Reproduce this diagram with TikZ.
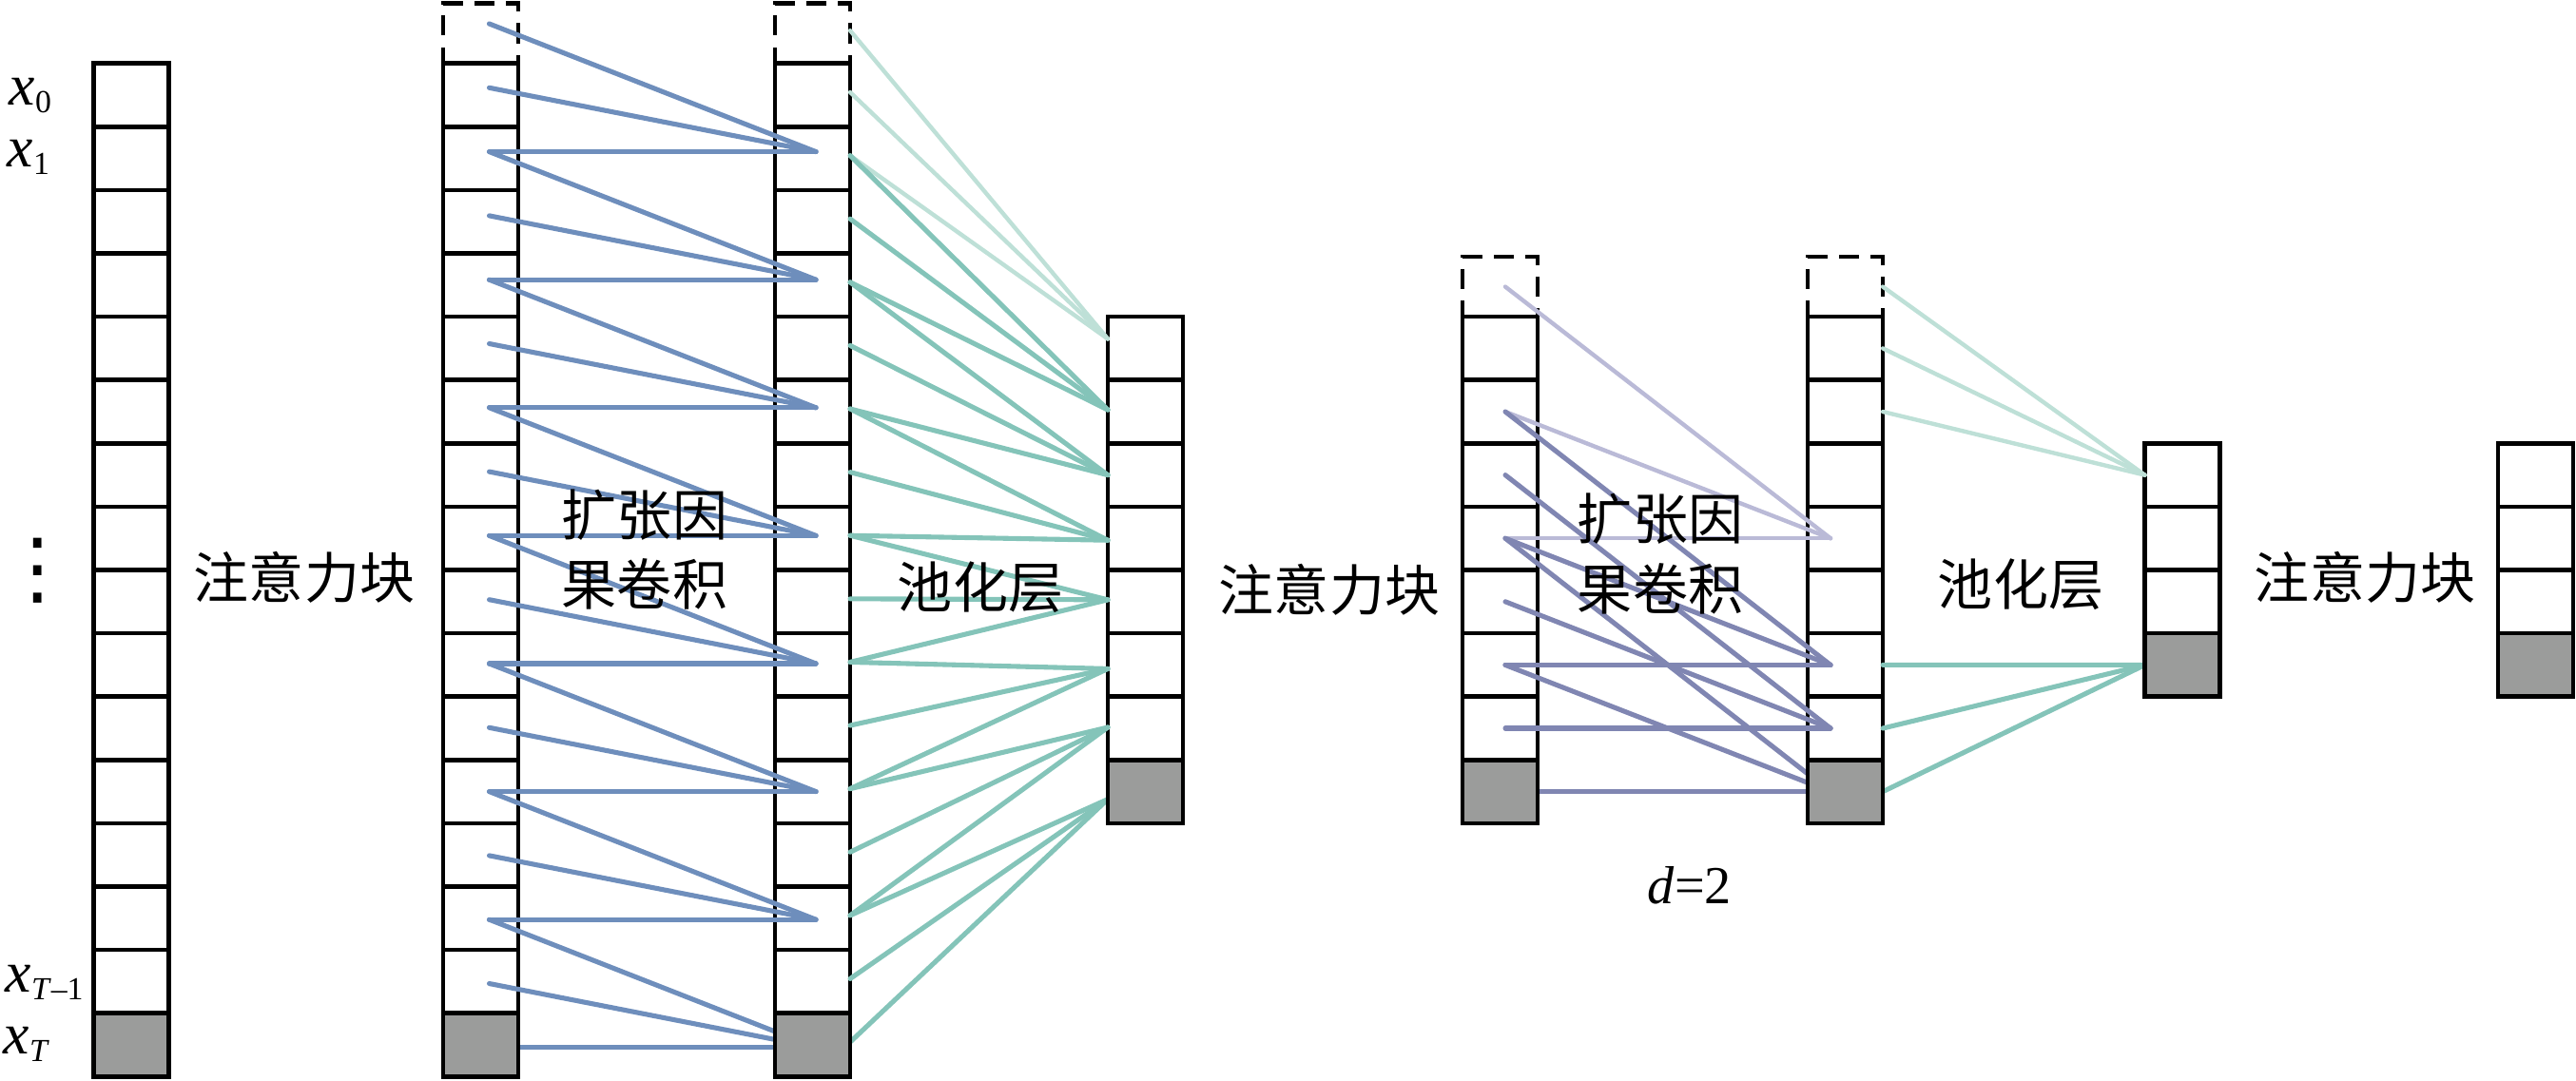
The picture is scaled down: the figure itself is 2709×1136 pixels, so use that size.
\documentclass[tikz,border=0pt]{standalone}
\usepackage{fontspec}
\setmainfont{Liberation Serif}
\newfontfamily\cjk{Noto Sans CJK SC}
\newfontfamily\dejavu{DejaVu Sans}
\usetikzlibrary{calc}
\pgfdeclarelayer{bg}
\pgfdeclarelayer{fg}
\pgfsetlayers{bg,main,fg}
\definecolor{convblue}{RGB}{110,142,188}
\definecolor{poolteal}{RGB}{132,196,185}
\definecolor{lightteal}{RGB}{190,224,215}
\definecolor{convpurple}{RGB}{128,134,178}
\definecolor{lightpurple}{RGB}{186,186,215}
\definecolor{cellgray}{RGB}{155,156,155}
\tikzset{
  cellbox/.style={draw=black, line width=1.3pt, minimum width=0.79cm, minimum height=0.666cm, inner sep=0pt, outer sep=0pt},
  graycell/.style={cellbox, fill=cellgray},
  padcell/.style={cellbox, minimum height=0.63cm, dash pattern=on 6pt off 3.5pt},
  link/.style={line width=1.45pt, line cap=round},
  bluelink/.style={link, draw=convblue},
  teallink/.style={link, draw=poolteal},
  lighttealink/.style={link, line width=1.25pt, draw=lightteal},
  purplelink/.style={link, draw=convpurple},
  lightpurplelink/.style={link, line width=1.25pt, draw=lightpurple},
  cjklabel/.style={font=\cjk\fontsize{16.5}{20.9}\selectfont, inner sep=0pt, align=center},
  xlabel/.style={font=\fontsize{17.5}{20}\selectfont, inner sep=0pt, anchor=base west},
}
\newcommand\lsub[1]{\raisebox{-2.4pt}{\fontsize{9.6}{10}\selectfont #1}}
\newcommand\mkcolumn[5]{%
  \begin{pgfonlayer}{bg}
    \ifnum#5=1
      \node[padcell, anchor=south west] (#1-0) at (#2,#3) {};
    \fi
    \pgfmathtruncatemacro\lastw{#4-1}
    \foreach \i in {1,...,\lastw}{
      \node[cellbox, anchor=north west] (#1-\i) at (#2,{#3+(\i-1)*66.6}) {};
    }
  \end{pgfonlayer}
  \begin{pgfonlayer}{fg}
    \node[graycell, anchor=north west] (#1-#4) at (#2,{#3+(#4-1)*66.6}) {};
  \end{pgfonlayer}
}
\begin{document}
\begin{tikzpicture}[x=0.01cm, y=-0.01cm]
\useasboundingbox (0,0) rectangle (2709,1136);
% columns
\mkcolumn{c1}{98.7}{66.7}{16}{0}
\mkcolumn{c2}{466}{66.7}{16}{1}
\mkcolumn{c3}{815}{66.7}{16}{1}
\mkcolumn{c4}{1165}{333.1}{8}{0}
\mkcolumn{c5}{1538}{333.1}{8}{1}
\mkcolumn{c6}{1901}{333.1}{8}{1}
\mkcolumn{c7}{2255.5}{466.3}{4}{0}
\mkcolumn{c8}{2627}{466.3}{4}{0}
% connector points of the first dilated causal convolution
\foreach \s in {0,...,16}{
  \coordinate (b2-\s) at ($(c2-1.north)+(9,{-41.7+67.3*\s})$);
  \coordinate (b3-\s) at ($(c3-1.north)+(3.5,{-41.7+67.3*\s})$);
}
\foreach \k in {2,4,...,16}{
  \pgfmathtruncatemacro\ka{\k-2}
  \pgfmathtruncatemacro\kb{\k-1}
  \foreach \s in {\ka,\kb,\k}{
    \draw[bluelink] (b2-\s) -- (b3-\k);
  }
}
% first pooling layer
\foreach \j/\off in {1/-10,2/-2,3/0,4/2,5/-2,6/4,7/-1,8/8}{
  \coordinate (t4-\j) at ($(c4-\j.west)+(0,\off)$);
}
\foreach \s in {0,...,16}{
  \coordinate (s3-\s) at ($(c3-\s.east)+(0,-3)$);
}
\foreach \s in {0,1,2}{
  \draw[lighttealink] (s3-\s) -- (t4-1);
}
\foreach \j in {2,...,8}{
  \pgfmathtruncatemacro\sa{2*\j-2}
  \pgfmathtruncatemacro\sb{2*\j-1}
  \pgfmathtruncatemacro\sc{2*\j}
  \foreach \s in {\sa,\sb,\sc}{
    \draw[teallink] (s3-\s) -- (t4-\j);
  }
}
% second dilated causal convolution, d=2
\foreach \s in {0,...,8}{
  \coordinate (p5-\s) at ($(c5-\s.center)+(5.5,0)$);
  \coordinate (p6-\s) at ($(c6-\s.center)+(-15.5,0)$);
}
\foreach \s/\t in {0/4,2/4,4/4}{
  \draw[lightpurplelink] (p5-\s) -- (p6-\t);
}
\foreach \s/\t in {2/6,4/6,6/6,3/7,5/7,7/7,4/8,6/8,8/8}{
  \draw[purplelink] (p5-\s) -- (p6-\t);
}
% second pooling layer
\foreach \s in {0,1,2}{
  \draw[lighttealink] (c6-\s.east) -- (c7-1.west);
}
\foreach \s in {6,7,8}{
  \draw[teallink] (c6-\s.east) -- (c7-4.west);
}
% labels
\node[xlabel] (lx0) at (9,110) {\textit{x}\lsub{0}};
\node[xlabel] (lx1) at (7,175) {\textit{x}\lsub{1}};
\node[xlabel] (lxt1) at (5,1043) {\textit{x}\lsub{\textit{T}–1}};
\node[xlabel] (lxt) at (3,1108) {\textit{x}\lsub{\textit{T}}};
\node[inner sep=0pt, font=\dejavu\fontsize{24}{24}\selectfont] (vd) at (39.5,600) {⋮};
\node[cjklabel] (att1) at (320,607) {注意力块};
\node[cjklabel] (dcc1) at (678,578) {扩张因\\果卷积};
\node[cjklabel] (pool1) at (1031,618) {池化层};
\node[cjklabel] (att2) at (1398,620) {注意力块};
\node[cjklabel] (dcc2) at (1746,582.5) {扩张因\\果卷积};
\node[cjklabel] (pool2) at (2125,615) {池化层};
\node[cjklabel] (att3) at (2487,607) {注意力块};
\node[inner sep=0pt, anchor=base, font=\fontsize{16}{19}\selectfont] (dlab) at (1777,950) {\textit{d}=2};
\end{tikzpicture}
\end{document}
